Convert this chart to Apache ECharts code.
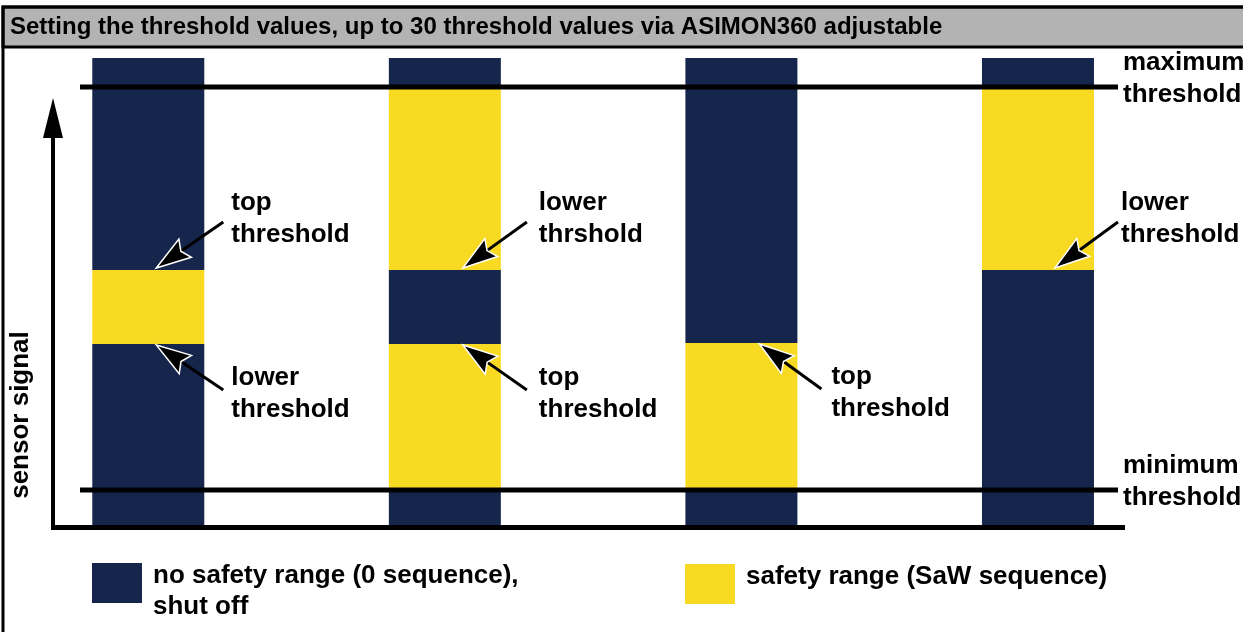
<!DOCTYPE html>
<html>
<head>
<meta charset="utf-8">
<script src="https://cdn.jsdelivr.net/npm/echarts@6/dist/echarts.min.js"></script>
<style>
  html, body { margin: 0; padding: 0; background: #ffffff; }
  #chart { width: 1243px; height: 632px; }
</style>
</head>
<body>
<div id="chart"></div>
<script>
// ---------------- data ----------------
const titleText = 'Setting the threshold values, up to 30 threshold values via ASIMON360 adjustable';
const axisTitle = 'sensor signal';
const categories = ['1', '2', '3', '4'];
// segment boundaries (sensor signal units) of each bar, bottom to top
const barBoundaries = [
  [0, 181, 255, 467],
  [0, 35, 181, 255, 438, 467],
  [0, 35, 182, 467],
  [0, 255, 438, 467]
];
// kind of each segment: 0 = no safety range, 1 = safety range
const barKinds = [
  [0, 1, 0],
  [0, 1, 0, 1, 0],
  [0, 1, 0],
  [0, 1, 0]
];
const minThreshold = 35;
const maxThreshold = 438;
const legendNames = ['no safety range (0 sequence),\nshut off', 'safety range (SaW sequence)'];
const annotationBars   = [0, 0, 1, 1, 2, 3];
const annotationValues = [255, 181, 255, 181, 182, 255];
const annotationTexts  = ['top\nthreshold', 'lower\nthreshold', 'lower\nthrshold', 'top\nthreshold', 'top\nthreshold', 'lower\nthreshold'];
const annotationAbove  = [true, false, true, false, false, true];
const thresholdTexts = ['maximum\nthreshold', 'minimum\nthreshold'];

// ---------------- style / layout ----------------
const NAVY = '#15254b';
const YELLOW = '#f8da22';
const kindColors = [NAVY, YELLOW];
const FONT = '"Liberation Sans", Arial, sans-serif';
// per annotation horizontal offsets from bar centre: [tip, tail, label]
const annotationLayout = [[8, 75, 83], [8, 75, 83], [18, 82, 94], [18, 82, 94], [18, 80, 90], [17, 80, 83]];

const chart = echarts.init(document.getElementById('chart'), null, { renderer: 'canvas' });

const maxSegs = Math.max(...barBoundaries.map(b => b.length - 1));
const segSeries = [];
for (let s = 0; s < maxSegs; s++) {
  const data = categories.map((c, i) => {
    const b = barBoundaries[i];
    if (s < b.length - 1) {
      return { value: b[s + 1] - b[s], itemStyle: { color: kindColors[barKinds[i][s]] } };
    }
    return { value: 0, itemStyle: { color: 'transparent' } };
  });
  segSeries.push({ type: 'bar', stack: 'signal', barWidth: 112, data: data, silent: true, z: 2 });
}

const option = {
  animation: false,
  backgroundColor: '#ffffff',
  title: {
    text: titleText, left: 5, top: 10,
    textStyle: { fontFamily: FONT, fontWeight: 'bold', fontSize: 24, color: '#000' }
  },
  grid: { left: -3.75, right: 56.75, top: 58, bottom: 107 },
  xAxis: { type: 'category', data: categories, show: false, boundaryGap: true },
  yAxis: { type: 'value', min: 0, max: 467, show: false },
  series: segSeries
};
chart.setOption(option);

// ---------------- decorations via the chart's scales ----------------
function px(i, y) { return chart.convertToPixel({ gridIndex: 0 }, [categories[i], y]); }

function arrow(tail, tip, headLen, hw) {
  const dx = tip[0] - tail[0], dy = tip[1] - tail[1];
  const len = Math.sqrt(dx * dx + dy * dy);
  const ux = dx / len, uy = dy / len;
  const pxp = -uy, pyp = ux;
  const bx = tip[0] - ux * headLen, by = tip[1] - uy * headLen;
  const nx = tip[0] - ux * headLen * 0.85, ny = tip[1] - uy * headLen * 0.85;
  return [
    { type: 'line', z: 20, shape: { x1: tail[0], y1: tail[1], x2: nx, y2: ny }, style: { stroke: '#000', lineWidth: 3 } },
    { type: 'polygon', z: 21, shape: { points: [tip, [bx + pxp * hw, by + pyp * hw], [nx, ny], [bx - pxp * hw, by - pyp * hw]] },
      style: { fill: '#000', stroke: '#fff', lineWidth: 1.5 } }
  ];
}

const g = [];
// outer frame and title bar
g.push({ type: 'rect', z: 0, shape: { x: 3, y: 7, width: 1260, height: 40 }, style: { fill: '#b3b3b3', stroke: '#000', lineWidth: 3 } });
g.push({ type: 'rect', z: 0, shape: { x: 3, y: 7, width: 1260, height: 640 }, style: { fill: 'none', stroke: '#000', lineWidth: 3 } });

// axes: horizontal axis line and vertical arrow
const y0 = px(0, 0)[1];
g.push({ type: 'line', z: 10, shape: { x1: 51, y1: y0 + 2.5, x2: 1125, y2: y0 + 2.5 }, style: { stroke: '#000', lineWidth: 5 } });
g.push({ type: 'line', z: 10, shape: { x1: 53, y1: y0 + 5, x2: 53, y2: 125 }, style: { stroke: '#000', lineWidth: 4 } });
g.push({ type: 'polygon', z: 10, shape: { points: [[53, 98], [63, 138], [43, 138]] }, style: { fill: '#000' } });
g.push({ type: 'text', z: 10, x: 21, y: 415, rotation: Math.PI / 2,
  style: { text: axisTitle, fontFamily: FONT, fontWeight: 'bold', fontSize: 26, fill: '#000', align: 'center', verticalAlign: 'middle' } });

// threshold lines
[maxThreshold, minThreshold].forEach((v, k) => {
  const yy = px(0, v)[1];
  g.push({ type: 'line', z: 15, shape: { x1: 80, y1: yy, x2: 1118, y2: yy }, style: { stroke: '#000', lineWidth: 5 } });
  g.push({ type: 'text', z: 15, x: 1123, y: yy - 8,
    style: { text: thresholdTexts[k], fontFamily: FONT, fontWeight: 'bold', fontSize: 26, lineHeight: 32, fill: '#000', align: 'left', verticalAlign: 'middle' } });
});

// annotation arrows
annotationBars.forEach((bi, k) => {
  const p = px(bi, annotationValues[k]);
  const above = annotationAbove[k];
  const L = annotationLayout[k];
  const tip = [p[0] + L[0], p[1] + (above ? -2 : 1)];
  const tail = [p[0] + L[1], p[1] + (above ? -48 : 46)];
  arrow(tail, tip, 35, 11).forEach(e => g.push(e));
  g.push({ type: 'text', z: 15, x: p[0] + L[2], y: p[1] + (above ? -51 : 50),
    style: { text: annotationTexts[k], fontFamily: FONT, fontWeight: 'bold', fontSize: 26, lineHeight: 32, fill: '#000', align: 'left', verticalAlign: 'middle' } });
});

// legend (drawn as graphic for exact placement)
const legendBoxes = [[92, 563], [685, 564]];
legendNames.forEach((n, k) => {
  const b = legendBoxes[k];
  g.push({ type: 'rect', z: 10, shape: { x: b[0], y: b[1], width: 50, height: 40 }, style: { fill: kindColors[k] } });
  g.push({ type: 'text', z: 10, x: b[0] + 61, y: b[1] - 3,
    style: { text: n, fontFamily: FONT, fontWeight: 'bold', fontSize: 26, lineHeight: 31, fill: '#000', align: 'left', verticalAlign: 'top' } });
});

chart.setOption({ graphic: { elements: g } });
</script>
</body>
</html>
